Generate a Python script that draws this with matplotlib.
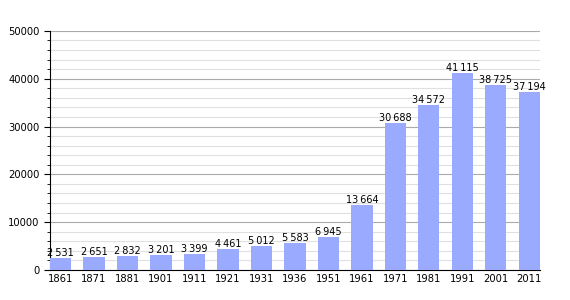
import matplotlib
matplotlib.use("Agg")
import matplotlib.pyplot as plt
from matplotlib.ticker import MultipleLocator

years = ['1861', '1871', '1881', '1901', '1911', '1921', '1931', '1936',
         '1951', '1961', '1971', '1981', '1991', '2001', '2011']
population = [2531, 2651, 2832, 3201, 3399, 4461, 5012, 5583,
              6945, 13664, 30688, 34572, 41115, 38725, 37194]

fig = plt.figure(figsize=(5.7, 3.0), dpi=100)
ax = fig.add_axes([0.0877, 0.1, 0.8596, 0.797])

x = range(len(years))
bar_w = 0.63
ax.bar(x, population, width=bar_w, color='#99aaff', zorder=3)

# value labels, thin space as thousands separator
for xi, v in zip(x, population):
    label = '{:,}'.format(v).replace(',', '\u2009')
    ax.text(xi, v, label, ha='center', va='bottom', fontsize=7, zorder=4)

ax.set_xlim(-bar_w / 2, len(years) - 1 + bar_w / 2)
ax.set_ylim(0, 50000)
ax.set_xticks(list(x))
ax.set_xticklabels(years)
ax.yaxis.set_major_locator(MultipleLocator(10000))
ax.yaxis.set_minor_locator(MultipleLocator(2000))
ax.grid(which='major', axis='y', color='#aaaaaa', linewidth=0.8, zorder=0)
ax.grid(which='minor', axis='y', color='#e0e0e0', linewidth=0.8, zorder=0)

for s in ['top', 'right']:
    ax.spines[s].set_visible(False)
ax.tick_params(axis='x', length=0, labelsize=7.2, pad=3)
ax.tick_params(axis='y', which='major', length=4, labelsize=7.2)
ax.tick_params(axis='y', which='minor', length=2)

fig.savefig('out.png', dpi=100)
